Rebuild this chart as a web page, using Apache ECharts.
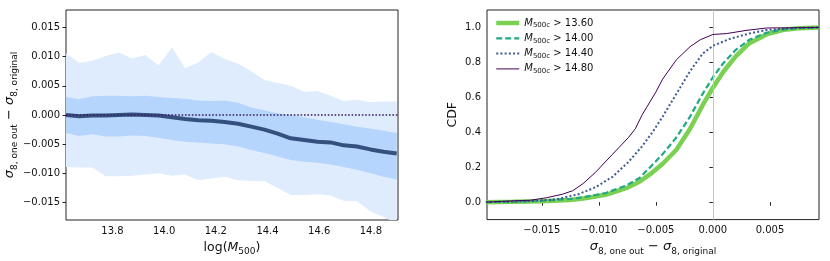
<!DOCTYPE html>
<html><head><meta charset="utf-8">
<script src="https://cdn.jsdelivr.net/npm/echarts@6/dist/echarts.min.js"></script>
<style>html,body{margin:0;padding:0;background:#fff}#c{width:830px;height:261px}</style>
</head><body><div id="c"></div>
<script>
// ---- Left panel data ----
const logMass = [13.620, 13.671, 13.722, 13.774, 13.825, 13.876, 13.927, 13.978, 14.030, 14.081, 14.132, 14.183, 14.234,
  14.286, 14.337, 14.388, 14.439, 14.490, 14.542, 14.593, 14.644, 14.695, 14.746, 14.798, 14.849, 14.900];
const outerHigh = [0.0106, 0.0089, 0.0093, 0.0101, 0.0107, 0.0097, 0.0103, 0.0085, 0.0116, 0.0080, 0.0090, 0.0108, 0.0096,
  0.0088, 0.0075, 0.0060, 0.0055, 0.0050, 0.0040, 0.0041, 0.0033, 0.0024, 0.0026, 0.0022, 0.0023, 0.0023];
const innerHigh = [0.0031, 0.0027, 0.0032, 0.0033, 0.0033, 0.0032, 0.0033, 0.0031, 0.0029, 0.0028, 0.0025, 0.0024, 0.0025,
  0.0021, 0.0013, 0.0008, 0.0003, 0.0000, -0.0004, -0.0008, -0.0012, -0.0016, -0.0020, -0.0023, -0.0027, -0.0031];
const medianDiff = [0.0000, -0.0002, -0.0001, -0.0001, 0.0000, 0.0001, 0.0000, -0.0001, -0.0004, -0.0007, -0.0009, -0.0010, -0.0012,
  -0.0015, -0.0020, -0.0025, -0.0032, -0.0040, -0.0043, -0.0046, -0.0047, -0.0052, -0.0054, -0.0059, -0.0063, -0.0066];
const innerLow = [-0.0031, -0.0036, -0.0033, -0.0037, -0.0037, -0.0035, -0.0036, -0.0039, -0.0043, -0.0046, -0.0047, -0.0049, -0.0050,
  -0.0054, -0.0060, -0.0065, -0.0071, -0.0077, -0.0080, -0.0082, -0.0085, -0.0089, -0.0094, -0.0100, -0.0106, -0.0110];
const outerLow = [-0.0089, -0.0090, -0.0090, -0.0105, -0.0105, -0.0104, -0.0102, -0.0100, -0.0104, -0.0102, -0.0112, -0.0109, -0.0106,
  -0.0112, -0.0113, -0.0113, -0.0125, -0.0137, -0.0137, -0.0136, -0.0138, -0.0147, -0.0148, -0.0165, -0.0175, -0.0186];
const leftXTicks = [13.8, 14.0, 14.2, 14.4, 14.6, 14.8];
const leftYTicks = [-0.015, -0.010, -0.005, 0.000, 0.005, 0.010, 0.015];

// ---- Right panel data ----
const cdfThresholds = ['13.60', '14.00', '14.40', '14.80'];
const cdf1360 = [[-0.0199,0],[-0.0175,0.002],[-0.015,0.005],[-0.0125,0.012],[-0.0112,0.022],[-0.0094,0.042],[-0.0076,0.08],
  [-0.0064,0.118],[-0.0055,0.16],[-0.0044,0.22],[-0.0032,0.30],[-0.0020,0.42],[-0.0009,0.555],[0,0.655],[0.0009,0.745],
  [0.0020,0.835],[0.0032,0.91],[0.0047,0.96],[0.0061,0.985],[0.0075,0.995],[0.0093,1.0]];
const cdf1400 = [[-0.0199,0],[-0.0175,0.003],[-0.015,0.008],[-0.0125,0.018],[-0.0112,0.030],[-0.0094,0.052],[-0.0076,0.095],
  [-0.0064,0.14],[-0.0055,0.20],[-0.0044,0.275],[-0.0032,0.37],[-0.0020,0.49],[-0.0009,0.62],[0,0.715],[0.0009,0.795],
  [0.0020,0.872],[0.0032,0.93],[0.0047,0.97],[0.0061,0.988],[0.0075,0.996],[0.0093,1.0]];
const cdf1440 = [[-0.0199,0],[-0.0175,0.003],[-0.016,0.006],[-0.0138,0.015],[-0.0118,0.045],[-0.0103,0.085],[-0.0088,0.145],
  [-0.0074,0.23],[-0.0062,0.32],[-0.0053,0.40],[-0.0044,0.49],[-0.0032,0.62],[-0.0020,0.75],[-0.0009,0.85],[0,0.895],
  [0.0015,0.935],[0.0032,0.966],[0.0047,0.985],[0.0070,0.996],[0.0093,1.0]];
const cdf1480 = [[-0.0199,0],[-0.0173,0.008],[-0.016,0.011],[-0.0146,0.025],[-0.0132,0.045],[-0.0123,0.065],[-0.0114,0.105],
  [-0.0103,0.17],[-0.0088,0.274],[-0.0074,0.37],[-0.0068,0.42],[-0.0062,0.50],[-0.0050,0.63],[-0.0044,0.705],[-0.0032,0.815],
  [-0.0020,0.89],[-0.0011,0.93],[0,0.96],[0.0012,0.965],[0.0029,0.983],[0.0047,0.997],[0.0093,1.0]];
const cdfXTicks = [-0.015, -0.010, -0.005, 0.000, 0.005];
const cdfYTicks = [0.0, 0.2, 0.4, 0.6, 0.8, 1.0];

const FONT = 'DejaVu Sans';
const TXT = '#111';
const fmt = (d) => (v) => (v < -1e-12 ? '\u2212' : '') + Math.abs(v).toFixed(d);

const sigmaRich = {
  s: { fontFamily: FONT, fontStyle: 'italic', fontSize: 13, color: TXT },
  sub: { fontFamily: FONT, fontSize: 9, color: TXT, padding: [9, 0, 0, 0] },
  m: { fontFamily: FONT, fontSize: 13, color: TXT }
};
const sigmaName = '{s|\u03c3}{sub|8, one out}{m| \u2212 }{s|\u03c3}{sub|8, original}';

function bandSeries(lo, hi, color, z) {
  return {
    type: 'custom', xAxisIndex: 0, yAxisIndex: 0, z: z, silent: true, clip: true,
    data: logMass.map((m, i) => [m, lo[i], hi[i]]),
    encode: { x: 0, y: [1, 2] },
    renderItem: function (params, api) {
      if (params.dataIndex !== 0) return null;
      const pts = [];
      for (let i = 0; i < logMass.length; i++) pts.push(api.coord([logMass[i], hi[i]]));
      for (let i = logMass.length - 1; i >= 0; i--) pts.push(api.coord([logMass[i], lo[i]]));
      const cs = params.coordSys;
      return {
        type: 'polygon', shape: { points: pts }, style: { fill: color },
        clipPath: { type: 'rect', shape: { x: cs.x, y: cs.y, width: cs.width, height: cs.height } }
      };
    }
  };
}

const axisCommon = {
  axisLine: { show: false },
  axisTick: { show: true, inside: false, length: 3.5, lineStyle: { color: '#222', width: 1 } },
  splitLine: { show: false },
  axisLabel: { color: TXT, fontFamily: FONT, fontSize: 10, margin: 6 }
};

const colors = ['#7ad151', '#22a884', '#3e5a92', '#440154'];
const lineStyles = [
  { color: colors[0], width: 4.5, type: 'solid' },
  { color: colors[1], width: 2.2, type: [6, 3] },
  { color: colors[2], width: 2, type: [2, 2.2] },
  { color: colors[3], width: 1, type: 'solid' }
];
const cdfData = [cdf1360, cdf1400, cdf1440, cdf1480];
const seriesName = (t) => 'M500c > ' + t;

const option = {
  animation: false,
  backgroundColor: '#fff',
  grid: [
    { left: 66, top: 10, width: 332, height: 210, show: true, borderColor: '#222', borderWidth: 1, backgroundColor: 'transparent' },
    { left: 487, top: 10, width: 332, height: 210, show: true, borderColor: '#222', borderWidth: 1, backgroundColor: 'transparent' }
  ],
  xAxis: [
    Object.assign({}, axisCommon, {
      type: 'value', gridIndex: 0, min: 13.62, max: 14.905,
      axisTick: Object.assign({}, axisCommon.axisTick, { customValues: leftXTicks }),
      axisLabel: Object.assign({}, axisCommon.axisLabel, { customValues: leftXTicks, formatter: fmt(1) }),
      name: '{n|log(}{i|M}{sub|500}{n|)}', nameLocation: 'middle', nameGap: 18,
      nameTextStyle: { rich: {
        n: { fontFamily: FONT, fontSize: 12.5, color: TXT },
        i: { fontFamily: FONT, fontStyle: 'italic', fontSize: 12.5, color: TXT },
        sub: { fontFamily: FONT, fontSize: 9, color: TXT, padding: [8, 0, 0, 0] }
      } }
    }),
    Object.assign({}, axisCommon, {
      type: 'value', gridIndex: 1, min: -0.0198, max: 0.0093,
      axisTick: Object.assign({}, axisCommon.axisTick, { customValues: cdfXTicks }),
      axisLabel: Object.assign({}, axisCommon.axisLabel, { customValues: cdfXTicks, formatter: fmt(3) }),
      name: sigmaName, nameLocation: 'middle', nameGap: 17,
      nameTextStyle: { rich: sigmaRich }
    })
  ],
  yAxis: [
    Object.assign({}, axisCommon, {
      type: 'value', gridIndex: 0, min: -0.018, max: 0.018,
      axisTick: Object.assign({}, axisCommon.axisTick, { customValues: leftYTicks }),
      axisLabel: Object.assign({}, axisCommon.axisLabel, { customValues: leftYTicks, formatter: fmt(3) }),
      name: sigmaName, nameLocation: 'middle', nameRotate: 90, nameGap: 42,
      nameTextStyle: { rich: sigmaRich }
    }),
    Object.assign({}, axisCommon, {
      type: 'value', gridIndex: 1, min: -0.1, max: 1.1,
      axisTick: Object.assign({}, axisCommon.axisTick, { customValues: cdfYTicks }),
      axisLabel: Object.assign({}, axisCommon.axisLabel, { customValues: cdfYTicks, formatter: fmt(1) }),
      name: 'CDF', nameLocation: 'middle', nameRotate: 90, nameGap: 28,
      nameTextStyle: { fontFamily: FONT, fontSize: 12.5, color: TXT }
    })
  ],
  legend: {
    show: true, orient: 'vertical', left: 494, top: 18, padding: 0, itemGap: 4.3,
    itemWidth: 23, itemHeight: 10,
    itemStyle: { opacity: 0, borderWidth: 0 },
    data: cdfThresholds.map((t, i) => ({ name: seriesName(t), lineStyle: lineStyles[i] })),
    formatter: function (name) { return '{i|M}{sub|500c}{t| > ' + name.split('> ')[1] + '}'; },
    textStyle: { rich: {
      i: { fontFamily: FONT, fontStyle: 'italic', fontSize: 10, color: TXT },
      sub: { fontFamily: FONT, fontSize: 7, color: TXT, padding: [5, 0, 0, 0] },
      t: { fontFamily: FONT, fontSize: 10, color: TXT }
    } }
  },
  series: [
    bandSeries(outerLow, outerHigh, '#dfecfd', 1),
    bandSeries(innerLow, innerHigh, '#b6d5fc', 2),
    {
      type: 'line', xAxisIndex: 0, yAxisIndex: 0, z: 3, symbol: 'none', silent: true,
      data: logMass.map((m, i) => [m, medianDiff[i]]),
      lineStyle: { color: '#34507f', width: 4 }
    },
    {
      type: 'line', xAxisIndex: 0, yAxisIndex: 0, z: 4, symbol: 'none', silent: true, data: [],
      markLine: { silent: true, symbol: 'none', label: { show: false },
        lineStyle: { color: '#3a1d5c', width: 1.6, type: [1.6, 1.8] },
        data: [{ yAxis: 0 }] }
    },
    {
      type: 'line', xAxisIndex: 1, yAxisIndex: 1, z: 1, symbol: 'none', silent: true, data: [],
      markLine: { silent: true, symbol: 'none', label: { show: false },
        lineStyle: { color: '#a9c9f2', width: 1, type: 'solid' },
        data: [{ xAxis: 0 }] }
    }
  ].concat(cdfThresholds.map((t, i) => ({
    name: seriesName(t), type: 'line', xAxisIndex: 1, yAxisIndex: 1, z: 3 + i, symbol: 'none',
    data: cdfData[i], lineStyle: lineStyles[i], itemStyle: { color: colors[i] }
  })))
};

const chart = echarts.init(document.getElementById('c'), null, { renderer: 'canvas' });
chart.setOption(option);
</script>
</body></html>
